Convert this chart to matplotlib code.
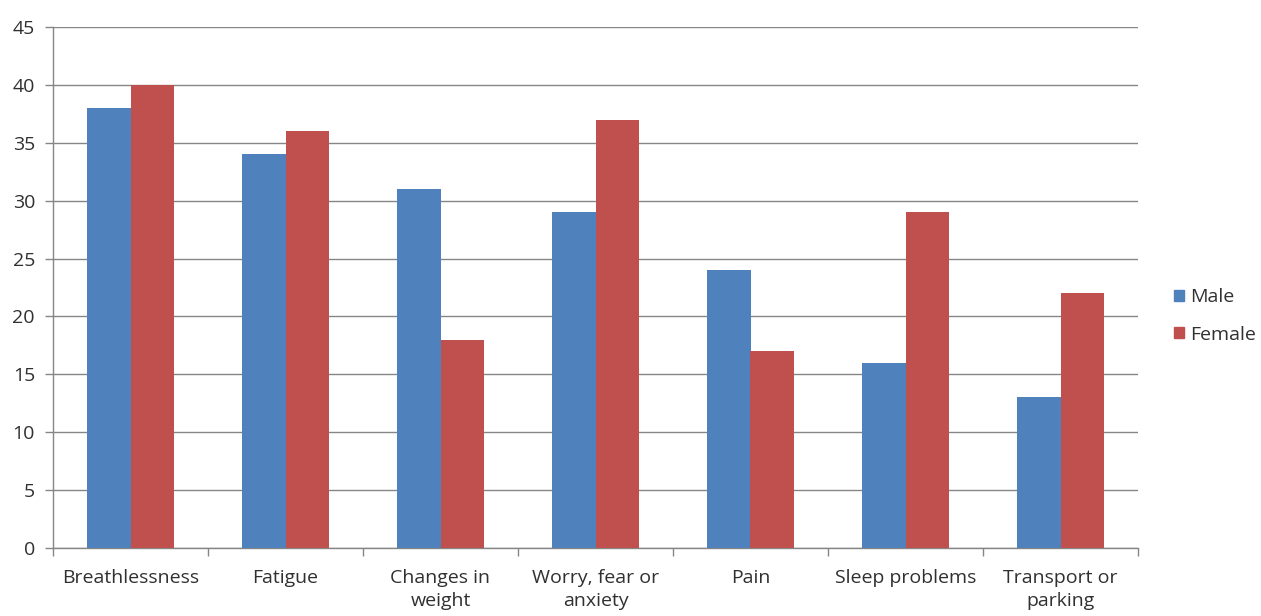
import matplotlib
matplotlib.use("Agg")
import matplotlib.pyplot as plt
import numpy as np
from matplotlib.patches import Patch

categories = ["Breathlessness", "Fatigue", "Changes in\nweight", "Worry, fear or\nanxiety",
              "Pain", "Sleep problems", "Transport or\nparking"]
male = [38, 34, 31, 29, 24, 16, 13]
female = [40, 36, 18, 37, 17, 29, 22]
yticks = list(range(0, 50, 5))

blue = "#4F81BD"
red = "#C0504D"
grid_c = "#868686"
text_c = "#303030"

plt.rcParams["font.family"] = ["Open Sans", "DejaVu Sans"]

fig = plt.figure(figsize=(12.61, 6.16), dpi=100)
ax = fig.add_axes([53 / 1261, 68 / 616, (1138 - 53) / 1261, (548 - 27) / 616])

x = np.arange(len(categories))
w = 0.28
ax.bar(x - w / 2, male, width=w, color=blue, zorder=3)
ax.bar(x + w / 2, female, width=w, color=red, zorder=3)

ax.set_xlim(-0.5, len(categories) - 0.5)
ax.set_ylim(0, 45)
ax.set_yticks(yticks)
ax.set_yticklabels([str(t) for t in yticks], fontsize=14, color=text_c)
ax.yaxis.grid(True, color=grid_c, linewidth=1, zorder=0)

# category labels centered, tick marks at the boundaries
ax.set_xticks(x)
ax.set_xticklabels(categories, fontsize=14, color=text_c, linespacing=1.4)
ax.tick_params(axis="x", length=0, pad=15)
ax.set_xticks(np.arange(-0.5, len(categories), 1), minor=True)
ax.tick_params(axis="x", which="minor", length=6, color=grid_c, width=1)
ax.tick_params(axis="y", length=6, color=grid_c, width=1, pad=7)

for s in ["top", "right"]:
    ax.spines[s].set_visible(False)
for s in ["left", "bottom"]:
    ax.spines[s].set_color(grid_c)
    ax.spines[s].set_linewidth(1)

handles = [Patch(color=blue, label="Male"), Patch(color=red, label="Female")]
fig.legend(handles=handles, loc="center left", bbox_to_anchor=(1174 / 1261, 1 - 316 / 616),
           frameon=False, fontsize=14, handlelength=0.5, handleheight=0.5,
           handletextpad=0.35, labelspacing=1.0, labelcolor=text_c,
           borderpad=0, borderaxespad=0)

fig.savefig("out.png", dpi=100)
